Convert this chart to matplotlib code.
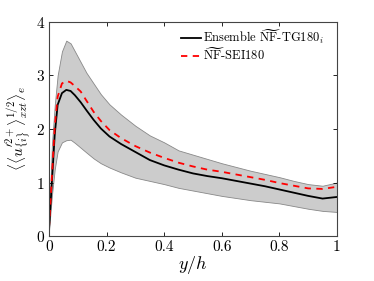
import matplotlib

matplotlib.use("Agg")
import matplotlib.pyplot as plt

# wall-normal position y/h
y_h = [0, 0.01, 0.02, 0.03, 0.045, 0.06, 0.075, 0.09, 0.11, 0.13, 0.155, 0.18, 0.21,
       0.25, 0.3, 0.35, 0.4, 0.45, 0.5, 0.55, 0.6, 0.65, 0.7, 0.75, 0.8, 0.85, 0.9, 0.95, 1.0]

# ensemble mean NF-TG180_i
ensemble = [0.12, 1.0, 1.9, 2.45, 2.67, 2.73, 2.71, 2.63, 2.50, 2.35, 2.17, 2.01, 1.86,
            1.72, 1.57, 1.42, 1.32, 1.24, 1.17, 1.12, 1.08, 1.03, 0.98, 0.93, 0.87, 0.81, 0.75, 0.70, 0.73]

# NF-SEI180
sei = [0.15, 1.1, 2.05, 2.6, 2.85, 2.90, 2.87, 2.80, 2.70, 2.53, 2.32, 2.15, 1.98,
       1.83, 1.68, 1.56, 1.46, 1.37, 1.30, 1.24, 1.20, 1.15, 1.10, 1.05, 0.99, 0.94, 0.89, 0.88, 0.92]

# ensemble envelope
upper = [0.2, 1.7, 2.45, 3.0, 3.45, 3.65, 3.6, 3.45, 3.25, 3.05, 2.85, 2.65, 2.46,
         2.27, 2.06, 1.88, 1.75, 1.60, 1.52, 1.44, 1.36, 1.29, 1.22, 1.16, 1.10, 1.03, 0.97, 0.94, 1.0]
lower = [0.1, 0.75, 1.25, 1.58, 1.75, 1.79, 1.80, 1.74, 1.65, 1.56, 1.45, 1.36, 1.28,
         1.19, 1.09, 1.03, 0.97, 0.90, 0.85, 0.80, 0.75, 0.71, 0.67, 0.64, 0.61, 0.56, 0.51, 0.47, 0.45]

plt.rcParams["font.family"] = "serif"
plt.rcParams["font.serif"] = ["cmr10", "DejaVu Serif"]
plt.rcParams["mathtext.fontset"] = "cm"
plt.rcParams["axes.formatter.use_mathtext"] = True

fig = plt.figure(figsize=(3.74, 2.81), dpi=100)
ax = fig.add_axes([0.131, 0.160, 0.770, 0.762])

ax.fill_between(y_h, lower, upper, facecolor="#cccccc", edgecolor="#888888", linewidth=0.6)
ax.plot(y_h, ensemble, color="black", linewidth=1.3,
        label=r"Ensemble $\widetilde{\mathrm{NF}}$-TG180$_i$")
ax.plot(y_h, sei, color="red", linestyle=(0, (3.5, 3.0)), linewidth=1.3,
        label=r"$\widetilde{\mathrm{NF}}$-SEI180")

ax.set_xlim(0, 1)
ax.set_ylim(0, 4)
ax.set_xticks([0, 0.2, 0.4, 0.6, 0.8, 1])
ax.set_xticklabels(["0", "0.2", "0.4", "0.6", "0.8", "1"])
ax.set_yticks([0, 1, 2, 3, 4])
ax.tick_params(direction="in", top=True, right=True, labelsize=11, length=3, width=0.6, pad=3)
for s in ax.spines.values():
    s.set_linewidth(0.8)
    s.set_color("#444444")

ax.set_xlabel(r"$y/h$", fontsize=13, labelpad=0)
ax.set_ylabel(r"$\langle\langle u^{\prime 2+}_{\{i\}}\rangle^{1/2}_{xzt}\rangle_e$", fontsize=11, labelpad=2)

ax.legend(loc="upper right", bbox_to_anchor=(0.975, 1.0), frameon=False, fontsize=9,
          handlelength=1.6, handletextpad=0.2, labelspacing=0.0, borderaxespad=0.25, borderpad=0.2)

fig.savefig("out.png", dpi=100)
